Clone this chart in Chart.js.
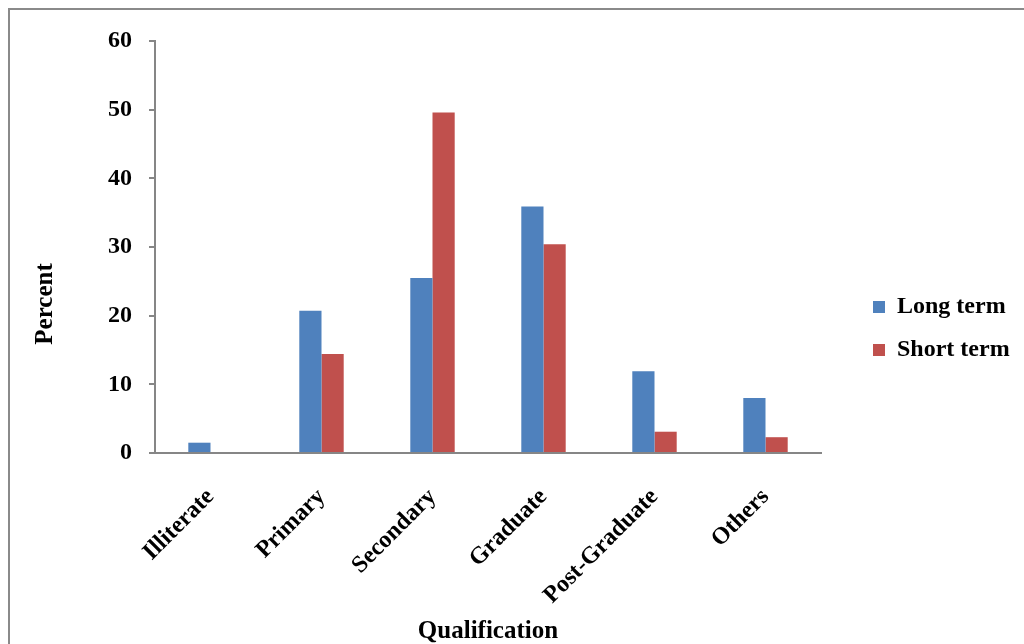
<!DOCTYPE html>
<html>
<head>
<meta charset="utf-8">
<script src="https://cdn.jsdelivr.net/npm/chart.js@4"></script>
<style>
  html, body { margin: 0; padding: 0; background: #ffffff; }
  #wrap { position: relative; width: 1024px; height: 644px; overflow: hidden; }
  #frame {
    position: absolute; left: 8px; top: 8px; width: 1100px; height: 700px;
    border-left: 2px solid #8a8a8a; border-top: 2px solid #8a8a8a;
  }
  #c { position: absolute; left: 0; top: 0; }
</style>
</head>
<body>
<div id="wrap">
  <div id="frame"></div>
  <canvas id="c" width="1024" height="644"></canvas>
</div>
<script>
// Education level of respondents, by length of stay (percent)
const qualifications = ['Illiterate', 'Primary', 'Secondary', 'Graduate', 'Post-Graduate', 'Others'];
const longTerm  = [1.5, 20.7, 25.5, 35.9, 11.9, 8.0];
const shortTerm = [0, 14.4, 49.6, 30.4, 3.1, 2.3];
const yTicks = [0, 10, 20, 30, 40, 50, 60];
const seriesNames = ['Long term', 'Short term'];
const xTitle = 'Qualification';
const yTitle = 'Percent';

const serif = "'Liberation Serif', 'Times New Roman', serif";
const axisGrey = '#868686';

// Rotated caption for the value axis
const yCaption = {
  id: 'yCaption',
  afterDraw(chart) {
    const ctx = chart.ctx;
    ctx.save();
    ctx.font = 'bold 25px ' + serif;
    ctx.fillStyle = '#000';
    ctx.textAlign = 'center';
    ctx.textBaseline = 'middle';
    ctx.translate(46, 304);
    ctx.rotate(-Math.PI / 2);
    ctx.fillText(yTitle, 0, 0);
    ctx.restore();
  }
};

// Leave a gap between the plot and the legend, and let the legend run to the edge
const legendGap = {
  id: 'legendGap',
  afterLayout(chart) {
    const lg = chart.legend;
    if (lg) {
      lg.left += 33;
      lg.right = chart.width;
      lg.width = lg.right - lg.left;
    }
  }
};

new Chart(document.getElementById('c'), {
  type: 'bar',
  data: {
    labels: qualifications,
    datasets: [
      { label: seriesNames[0], data: longTerm,  backgroundColor: '#4F81BD', borderWidth: 0,
        categoryPercentage: 0.4, barPercentage: 1.0 },
      { label: seriesNames[1], data: shortTerm, backgroundColor: '#C0504D', borderWidth: 0,
        categoryPercentage: 0.4, barPercentage: 1.0 }
    ]
  },
  options: {
    responsive: false,
    animation: false,
    devicePixelRatio: 1,
    events: [],
    layout: { padding: { top: 41, right: 53, bottom: 28, left: 0 } },
    plugins: {
      tooltip: { enabled: false },
      legend: {
        position: 'right',
        maxWidth: 150,
        labels: {
          boxWidth: 12, boxHeight: 12, padding: 19, color: '#000',
          font: { family: serif, size: 24, weight: 'bold' }
        }
      }
    },
    scales: {
      x: {
        afterFit(s) { s.height = 163; },
        grid: { display: false },
        border: { display: true, color: axisGrey, width: 2 },
        ticks: {
          color: '#000', minRotation: 45, maxRotation: 45, padding: 22, autoSkip: false,
          font: { family: serif, size: 24, weight: 'bold' }
        },
        title: {
          display: true, text: xTitle, color: '#000',
          font: { family: serif, size: 25, weight: 'bold' },
          padding: { top: 0, bottom: -31 }
        }
      },
      y: {
        afterFit(s) { s.width = 155; },
        min: yTicks[0],
        max: yTicks[yTicks.length - 1],
        grid: { display: true, drawOnChartArea: false, drawTicks: true, tickLength: 6,
                color: axisGrey, lineWidth: 2 },
        border: { display: true, color: axisGrey, width: 2 },
        ticks: {
          stepSize: yTicks[1] - yTicks[0], padding: 17, color: '#000',
          font: { family: serif, size: 24, weight: 'bold' }
        }
      }
    }
  },
  plugins: [yCaption, legendGap]
});
</script>
</body>
</html>
